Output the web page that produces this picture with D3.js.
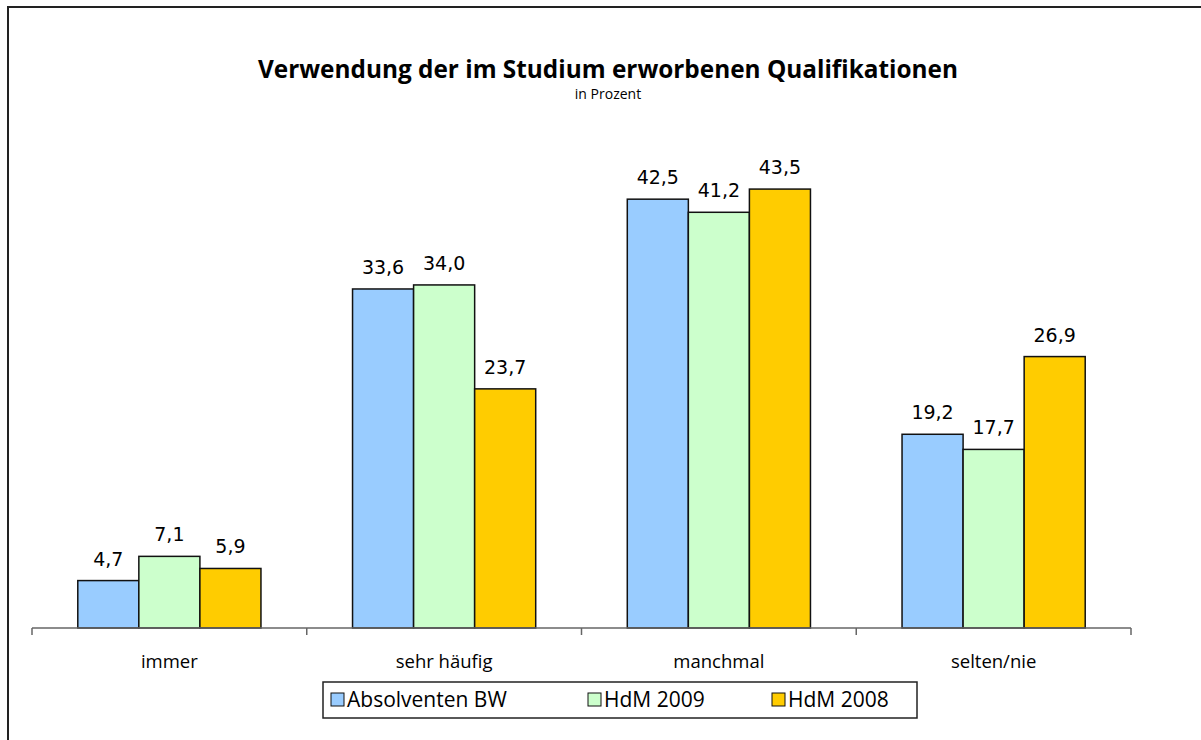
<!DOCTYPE html>
<html>
<head>
<meta charset="utf-8">
<script src="https://cdn.jsdelivr.net/npm/d3@7"></script>
<style>
  body { margin: 0; background: #fff; }
  svg { display: block; font-family: "Open Sans", "DejaVu Sans", sans-serif; }
</style>
</head>
<body>
<div id="chart"></div>
<script>
// categories + series (values in percent)
const categories = ["immer", "sehr häufig", "manchmal", "selten/nie"];
const seriesNames = ["Absolventen BW", "HdM 2009", "HdM 2008"];
const absolventenBW = [4.7, 33.6, 42.5, 19.2];
const hdm2009 = [7.1, 34.0, 41.2, 17.7];
const hdm2008 = [5.9, 23.7, 43.5, 26.9];
const colors = ["#99ccff", "#ccffcc", "#ffcc00"];

const W = 1201, H = 740;
const fmt = v => d3.format(".1f")(v).replace(".", ",");

const svg = d3.select("#chart").append("svg")
  .attr("width", W).attr("height", H);

// outer frame (runs off the right/bottom edge)
svg.append("rect")
  .attr("x", 8).attr("y", 7).attr("width", W).attr("height", H)
  .attr("fill", "none").attr("stroke", "#222").attr("stroke-width", 2);

// title
svg.append("text")
  .attr("x", 608).attr("y", 78)
  .attr("text-anchor", "middle")
  .attr("font-size", 25).attr("font-weight", "bold")
  .attr("textLength", 700).attr("lengthAdjust", "spacingAndGlyphs")
  .text("Verwendung der im Studium erworbenen Qualifikationen");
svg.append("text")
  .attr("x", 608).attr("y", 99)
  .attr("text-anchor", "middle")
  .attr("font-size", 14)
  .text("in Prozent");

// scales
const x0 = d3.scaleBand().domain(categories).range([32, 1131]).paddingInner(0).paddingOuter(0);
const x1 = d3.scaleBand().domain(seriesNames)
  .range([0, x0.bandwidth()]).paddingInner(0).paddingOuter(0.75);
const y = d3.scaleLinear().domain([0, 50]).range([628, 123.5]);

const rows = categories.map((c, i) => ({
  cat: c,
  vals: [absolventenBW[i], hdm2009[i], hdm2008[i]]
}));

const g = svg.append("g");
const grp = g.selectAll("g.cat").data(rows).join("g")
  .attr("class", "cat")
  .attr("transform", d => `translate(${x0(d.cat)},0)`);

grp.selectAll("rect").data(d => d.vals.map((v, j) => ({ v, s: seriesNames[j], j })))
  .join("rect")
  .attr("x", d => x1(d.s))
  .attr("width", x1.bandwidth())
  .attr("y", d => y(d.v))
  .attr("height", d => y(0) - y(d.v))
  .attr("fill", d => colors[d.j])
  .attr("stroke", "#111").attr("stroke-width", 1.5);

// value labels above bars
grp.selectAll("text.val").data(d => d.vals.map((v, j) => ({ v, s: seriesNames[j] })))
  .join("text")
  .attr("class", "val")
  .attr("x", d => x1(d.s) + x1.bandwidth() / 2)
  .attr("y", d => y(d.v) - 15)
  .attr("text-anchor", "middle")
  .attr("font-family", "'DejaVu Sans', sans-serif")
  .attr("font-size", 19)
  .text(d => fmt(d.v));

// category axis: ticks between categories
const xAxis = svg.append("g").attr("transform", `translate(0,${y(0)})`);
xAxis.append("line")
  .attr("x1", 32).attr("x2", 1131)
  .attr("stroke", "#666").attr("stroke-width", 1.5);
const tickXs = categories.map(c => x0(c)).concat([x0.range()[1]]);
xAxis.selectAll("line.tick").data(tickXs).join("line")
  .attr("class", "tick")
  .attr("x1", d => d).attr("x2", d => d)
  .attr("y1", 0).attr("y2", 7)
  .attr("stroke", "#666").attr("stroke-width", 1.5);
xAxis.selectAll("text").data(categories).join("text")
  .attr("x", d => x0(d) + x0.bandwidth() / 2)
  .attr("y", 40)
  .attr("text-anchor", "middle")
  .attr("font-size", 18.5)
  .text(d => d);

// legend
const leg = svg.append("g");
leg.append("rect")
  .attr("x", 323).attr("y", 682).attr("width", 594).attr("height", 36)
  .attr("fill", "#fff").attr("stroke", "#222").attr("stroke-width", 1.5);
const legX = [331, 588, 772];
const item = leg.selectAll("g.item").data(seriesNames).join("g")
  .attr("class", "item")
  .attr("transform", (d, i) => `translate(${legX[i]},693)`);
item.append("rect")
  .attr("width", 13).attr("height", 13)
  .attr("fill", (d, i) => colors[i])
  .attr("stroke", "#111").attr("stroke-width", 1);
item.append("text")
  .attr("x", 16).attr("y", 14)
  .attr("font-size", 21)
  .text(d => d);
</script>
</body>
</html>
